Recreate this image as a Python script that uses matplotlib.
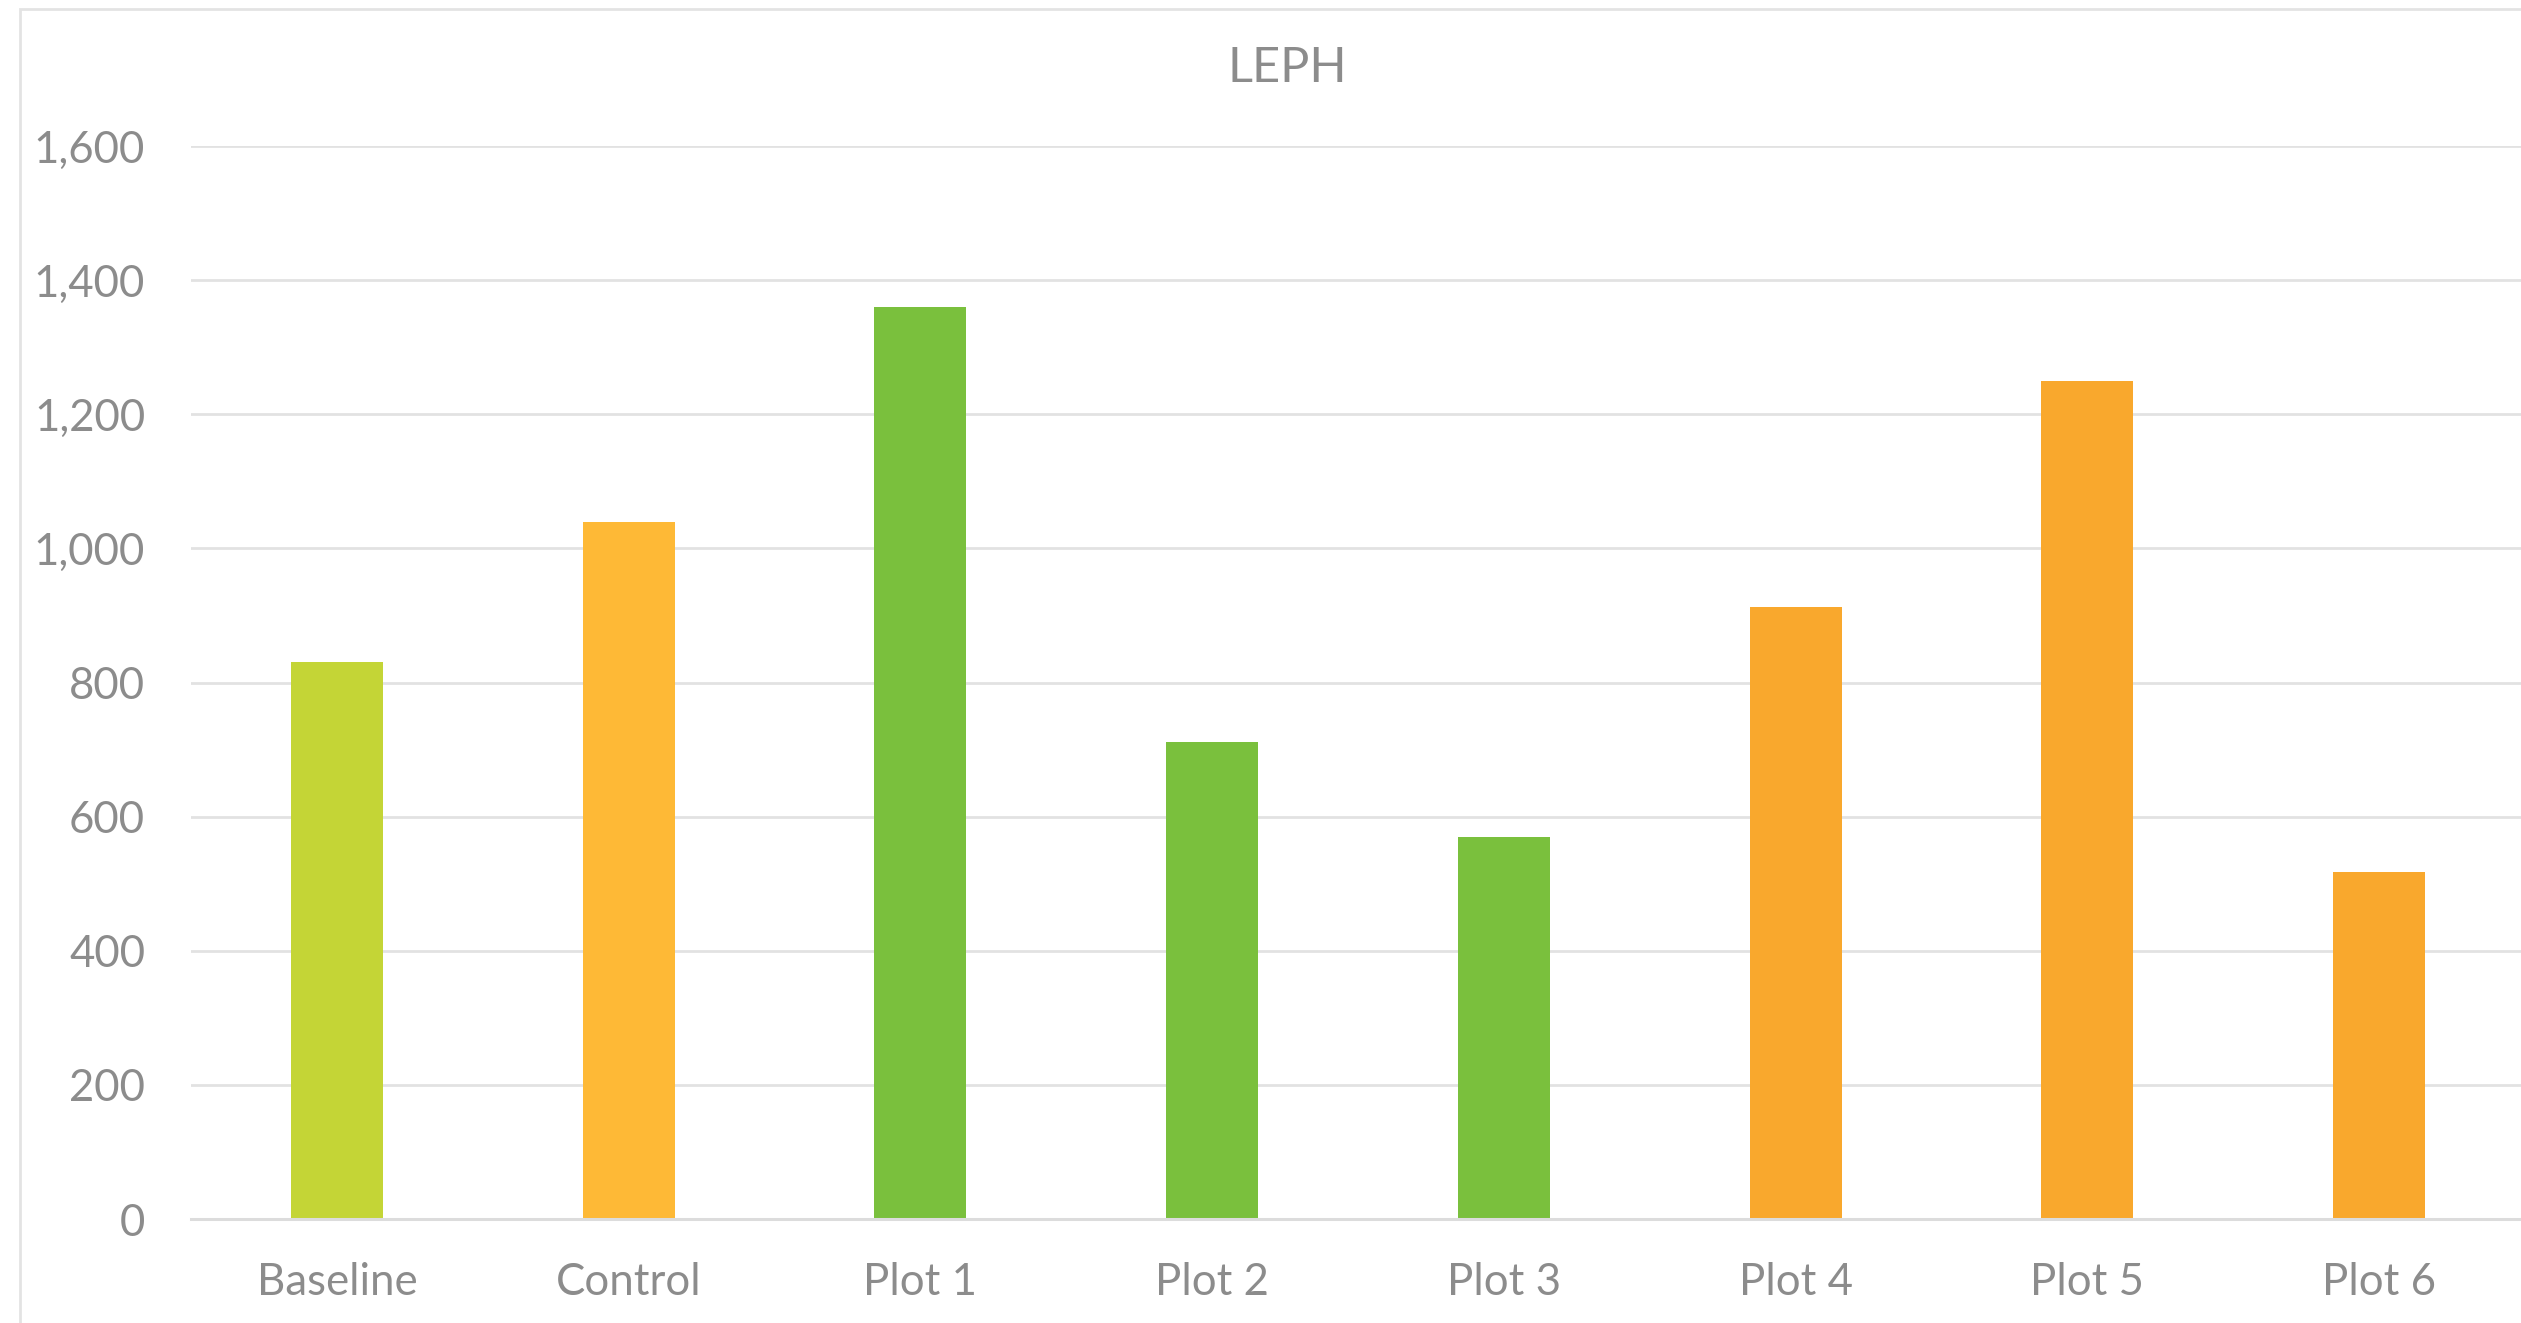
import matplotlib
matplotlib.use("Agg")
import matplotlib.pyplot as plt
from matplotlib.patches import Rectangle
from matplotlib.ticker import FuncFormatter, MultipleLocator

# LEPH by treatment
categories = ["Baseline", "Control", "Plot 1", "Plot 2", "Plot 3", "Plot 4", "Plot 5", "Plot 6"]
leph = [830, 1040, 1360, 712, 569, 912, 1250, 518]
bar_colors = ["#C4D536", "#FEB936", "#7AC03D", "#7AC03D", "#7AC03D", "#F9A82D", "#F9A82D", "#F9A82D"]
title = "LEPH"

W, H = 2521, 1323
DPI = 100
TEXT = "#8C8C8C"
GRID = "#E2E2E2"
FONT = ["Lato", "DejaVu Sans"]

fig = plt.figure(figsize=(W / DPI, H / DPI), dpi=DPI)
fig.patch.set_facecolor("white")

# light chart-area frame
fig.add_artist(Rectangle((20 / W, -0.05), 1.1, 1 - 9 / H + 0.05, transform=fig.transFigure,
                         fill=False, edgecolor="#E3E3E3", linewidth=2.0))

# plot area: x from 191 px to 2525 px, y from 146 px (1600) to 1219 px (0)
left, right = 191 / W, 2525 / W
bottom, top = 1 - 1219 / H, 1 - 146 / H
ax = fig.add_axes([left, bottom, right - left, top - bottom])
ax.set_facecolor("none")

x = range(len(categories))
ax.bar(x, leph, width=0.315, color=bar_colors, zorder=3)

ax.set_xlim(-0.5, len(categories) - 0.5)
ax.set_ylim(0, 1600)
ax.yaxis.set_major_locator(MultipleLocator(200))
ax.yaxis.set_major_formatter(FuncFormatter(lambda v, p: f"{int(v):,}"))
ax.grid(axis="y", color=GRID, linewidth=2.0, zorder=0)
ax.set_axisbelow(True)

for s in ["left", "right", "top"]:
    ax.spines[s].set_visible(False)
ax.spines["bottom"].set_color("#DCDCDC")
ax.spines["bottom"].set_linewidth(2.2)
ax.spines["bottom"].set_zorder(4)

ax.set_xticks(list(x))
ax.set_xticklabels(categories)
ax.tick_params(axis="both", length=0, labelcolor=TEXT, labelsize=31.5)
ax.tick_params(axis="y", pad=33)
ax.tick_params(axis="x", pad=31)
for lab in ax.get_xticklabels() + ax.get_yticklabels():
    lab.set_family(FONT)

fig.text(1287 / W, 1 - 68 / H, title, ha="center", va="center",
         fontsize=35, color=TEXT, family=FONT)

fig.savefig("out.png", dpi=DPI, facecolor="white")
